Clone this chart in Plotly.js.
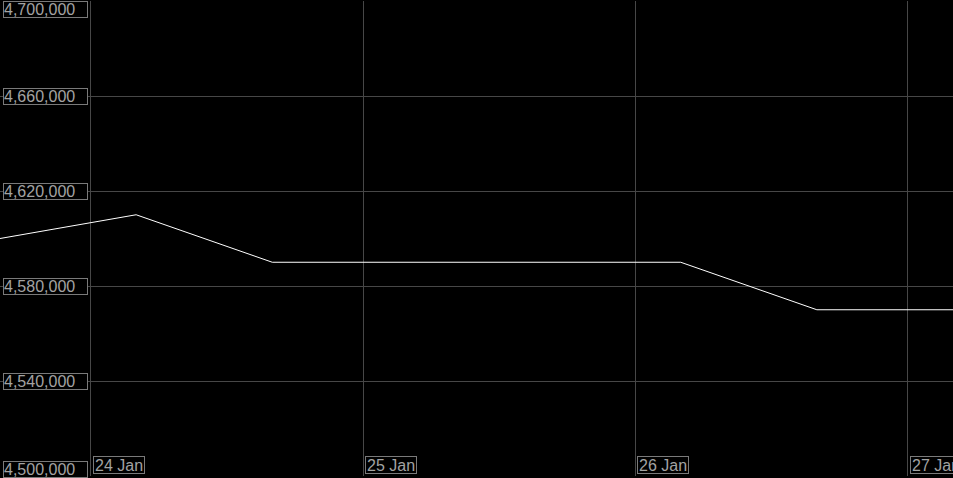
<!DOCTYPE html>
<html>
<head>
<meta charset="utf-8">
<script src="https://cdn.plot.ly/plotly-3.0.1.min.js"></script>
<style>
html,body{margin:0;padding:0;background:#000;}
#chart{width:953px;height:478px;}
</style>
</head>
<body>
<div id="chart"></div>
<script>
// Data
var times = ["2024-01-23 16:00", "2024-01-24 04:00", "2024-01-24 16:00", "2024-01-25 04:00",
             "2024-01-25 16:00", "2024-01-26 04:00", "2024-01-26 16:00", "2024-01-27 04:00"];
var values = [4600000, 4610000, 4590000, 4590000, 4590000, 4590000, 4570000, 4570000];
var yTicks = [4500000, 4540000, 4580000, 4620000, 4660000, 4700000];
var yTickLabels = ["4,500,000", "4,540,000", "4,580,000", "4,620,000", "4,660,000", "4,700,000"];
var xTicks = ["2024-01-24", "2024-01-25", "2024-01-26", "2024-01-27"];
var xTickLabels = ["24 Jan", "25 Jan", "26 Jan", "27 Jan"];

var gridColor = "#474747";
var labelColor = "#a3a3a3";
var boxColor = "#7a7a7a";
var font = {family: "Liberation Sans, Arial, sans-serif", size: 16, color: labelColor};

var annotations = [];
yTicks.forEach(function(v, i) {
  var anchor = "middle";
  if (i === yTicks.length - 1) anchor = "top";
  if (i === 0) anchor = "bottom";
  annotations.push({
    xref: "paper", yref: "y", x: 0, y: v, xanchor: "left", yanchor: anchor,
    xshift: 3, yshift: (i === 0 ? -2 : 0),
    text: yTickLabels[i], showarrow: false, font: font,
    align: "left", width: 83, height: 15, borderpad: 0,
    bordercolor: boxColor, borderwidth: 1, bgcolor: "#000"
  });
});
xTicks.forEach(function(t, i) {
  annotations.push({
    xref: "x", yref: "paper", x: t, y: 0, xanchor: "left", yanchor: "bottom",
    xshift: 2, yshift: 2,
    text: xTickLabels[i], showarrow: false, font: font,
    align: "left", height: 14, borderpad: 1,
    bordercolor: boxColor, borderwidth: 1, bgcolor: "#000"
  });
});

var trace = {
  x: times, y: values, type: "scatter", mode: "lines",
  line: {color: "#ffffff", width: 1},
  hoverinfo: "skip"
};

var layout = {
  width: 953, height: 478,
  paper_bgcolor: "#000", plot_bgcolor: "#000",
  margin: {l: 0, r: 0, t: 1, b: 2, pad: 0},
  showlegend: false,
  xaxis: {
    type: "date",
    range: ["2024-01-23 16:00", "2024-01-27 04:00"],
    tickvals: xTicks, showticklabels: false,
    showgrid: true, gridcolor: gridColor, gridwidth: 1,
    zeroline: false, showline: false, ticks: ""
  },
  yaxis: {
    range: [4500000, 4700000],
    tickvals: yTicks, showticklabels: false,
    showgrid: true, gridcolor: gridColor, gridwidth: 1,
    zeroline: false, showline: false, ticks: ""
  },
  annotations: annotations
};

Plotly.newPlot("chart", [trace], layout, {displayModeBar: false, staticPlot: true});
</script>
</body>
</html>
